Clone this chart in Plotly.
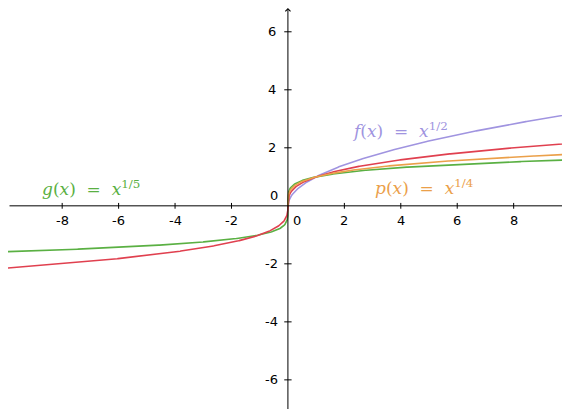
import numpy as np
import plotly.graph_objects as go

# function exponents (the chart is a family of root functions)
names = ["f", "g", "h", "p"]
exponents = [1/2, 1/5, 1/3, 1/4]
colors = ["#a094e0", "#5ab043", "#e0404f", "#eba04a"]
odd_root = [False, True, True, False]
label_text = ["<i>f</i>(<i>x</i>)  =  <i>x</i><sup>1/2</sup>",
              "<i>g</i>(<i>x</i>)  =  <i>x</i><sup>1/5</sup>",
              "<i>h</i>(<i>x</i>)  =  <i>x</i><sup>1/3</sup>",
              "<i>p</i>(<i>x</i>)  =  <i>x</i><sup>1/4</sup>"]
label_x = [2.2, -8.8, -10.15, 3.0]
label_y = [2.6, 0.6, -3.2, 0.65]

x_ticks = [-8, -6, -4, -2, 2, 4, 6, 8]
y_ticks = [-6, -4, -2, 2, 4, 6]

xr = [-9.92, 10.28]
yr = [-7.28, 6.82]

fig = go.Figure()
xs = np.concatenate([np.linspace(0, 0.05, 200), np.linspace(0.05, 10.5, 400)[1:]])
for n, e, c, odd in zip(names, exponents, colors, odd_root):
    y = xs ** e
    if odd:
        x_all = np.concatenate([-xs[::-1], xs[1:]])
        y_all = np.concatenate([-y[::-1], y[1:]])
    else:
        x_all, y_all = xs, y
    fig.add_trace(go.Scatter(x=x_all, y=y_all, mode="lines", name=n,
                             line=dict(color=c, width=1.6), hoverinfo="skip"))

for t, c, lx, ly in zip(label_text, colors, label_x, label_y):
    fig.add_annotation(x=lx, y=ly, text=t, showarrow=False, xanchor="left",
                       font=dict(family="DejaVu Serif", size=17, color=c))

# axes drawn through the origin, GeoGebra style
fig.add_annotation(x=xr[1], y=0, ax=xr[0], ay=0, xref="x", yref="y", axref="x", ayref="y",
                   showarrow=True, arrowhead=4, arrowsize=1, arrowwidth=1, arrowcolor="black", text="")
fig.add_annotation(x=0, y=yr[1], ax=0, ay=yr[0], xref="x", yref="y", axref="x", ayref="y",
                   showarrow=True, arrowhead=4, arrowsize=1, arrowwidth=1, arrowcolor="black", text="")
tick_font = dict(family="DejaVu Sans", size=13, color="black")
for t in x_ticks:
    fig.add_shape(type="line", x0=t, x1=t, y0=-0.1, y1=0.1, line=dict(color="black", width=1))
    fig.add_annotation(x=t, y=0, yshift=-15, text=str(t), showarrow=False, font=tick_font)
for t in y_ticks:
    fig.add_shape(type="line", x0=-0.13, x1=0.13, y0=t, y1=t, line=dict(color="black", width=1))
    fig.add_annotation(x=0, y=t, xshift=-16, text=str(t), showarrow=False, font=tick_font)
fig.add_annotation(x=0, y=0, xshift=-14, yshift=10, text="0", showarrow=False, font=tick_font)
fig.add_annotation(x=0, y=0, xshift=9, yshift=-15, text="0", showarrow=False, font=tick_font)

fig.update_layout(width=570, height=409, margin=dict(l=0, r=0, t=0, b=0),
                  paper_bgcolor="white", plot_bgcolor="white", showlegend=False,
                  xaxis=dict(range=xr, visible=False),
                  yaxis=dict(range=yr, visible=False))
fig.write_html("out.html")
